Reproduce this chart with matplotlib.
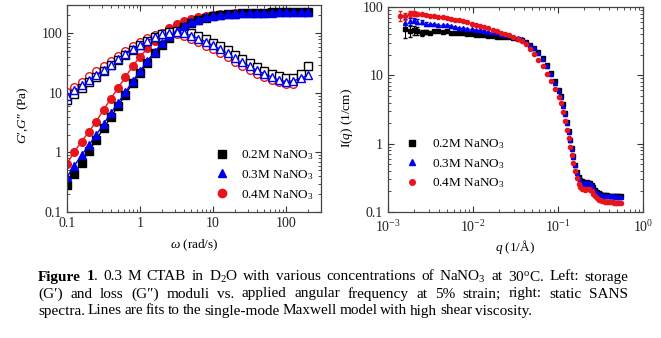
import numpy as np
import matplotlib
matplotlib.use('Agg')
import matplotlib.pyplot as plt
from matplotlib.ticker import FuncFormatter
from matplotlib.lines import Line2D

plt.rcParams['font.family'] = ['Liberation Serif', 'DejaVu Serif']
plt.rcParams['mathtext.fontset'] = 'custom'
plt.rcParams['mathtext.rm'] = 'Liberation Serif'
plt.rcParams['mathtext.it'] = 'Liberation Serif:italic'
plt.rcParams['mathtext.bf'] = 'Liberation Serif:bold'

# ---- rheology data (left panel) ----
omega = [0.1, 0.126, 0.158, 0.2, 0.251, 0.316, 0.398, 0.501, 0.631, 0.794,
         1, 1.26, 1.58, 2, 2.51, 3.16, 3.98, 5.01, 6.31, 7.94,
         10, 12.6, 15.8, 20, 25.1, 31.6, 39.8, 50.1, 63.1, 79.4,
         100, 126, 158, 200]

g1_02 = [0.28, 0.44, 0.67, 1.07, 1.62, 2.55, 3.9, 6.1, 9.4, 14.8,
         21.8, 32, 46, 64, 84, 105, 128, 150, 168, 182,
         193, 201, 208, 213, 217, 220, 222, 224, 225, 226,
         227, 227, 228, 228]
g2_02 = [7.6, 9.5, 12, 15, 18.8, 23.5, 29, 36, 44, 53,
         63, 75, 87, 97, 106, 110, 107, 100, 90, 80,
         70, 61, 52, 44, 37, 31.5, 27, 23.5, 21, 19,
         17.5, 18, 21, 28]
g1_03 = [0.39, 0.6, 0.9, 1.33, 1.97, 3.0, 4.6, 6.8, 10.3, 15.8,
         23.3, 34.4, 49, 68.5, 89, 111, 131, 154, 170, 185,
         195, 203, 210, 215, 218, 220, 222, 223, 224, 225,
         225, 226, 226, 226]
g2_03 = [9, 11, 13.5, 16.5, 20, 24.5, 30, 37, 45, 54,
         64, 75, 86, 96, 103, 104, 100, 92, 82, 72,
         63, 54, 46, 39, 33, 28, 24, 21, 18.5, 16.5,
         15.5, 16, 17.5, 20]
g1_04 = [0.65, 1.03, 1.52, 2.24, 3.31, 5.2, 8.0, 12.2, 18.5, 28.3,
         40.7, 56, 75, 97, 122, 144, 162, 177, 190, 199,
         206, 211, 215, 218, 220, 222, 223, 224, 225, 225,
         226, 226]
g2_04 = [10.5, 12.8, 15.5, 19, 23, 28, 34.5, 42, 51, 61,
         72, 83, 93, 100, 103, 99, 91, 81, 71, 62,
         54, 46, 39.5, 33.5, 28.5, 24.5, 21, 18.5, 16.5, 15,
         14.2, 14]

# ---- SANS data (right panel) ----
q = [0.0014, 0.0016, 0.0018, 0.002, 0.0022, 0.0025, 0.0028, 0.0031, 0.0035, 0.0039,
     0.0044, 0.0049, 0.0055, 0.0062, 0.0069, 0.0077, 0.0086, 0.0097, 0.0108, 0.0121,
     0.0136, 0.0152, 0.017, 0.019, 0.0213, 0.0238, 0.0267, 0.0298, 0.0334, 0.0374,
     0.0418, 0.0469, 0.0525, 0.0588, 0.0658, 0.0737, 0.0825, 0.0924, 0.1025, 0.108,
     0.115, 0.121, 0.128, 0.134, 0.14, 0.146, 0.152, 0.16, 0.168, 0.175,
     0.183, 0.192, 0.2, 0.21, 0.22, 0.23, 0.24, 0.25, 0.26, 0.27,
     0.285, 0.3, 0.315, 0.33, 0.345, 0.36, 0.38, 0.4, 0.42, 0.44,
     0.46, 0.48, 0.5, 0.52, 0.55]

i_02 = [np.nan, 47, 44, 46, 45, 42, 43, 42, 44, 45,
        43, 44, 42, 41, 42, 41.5, 40.5, 40, 39.5, 39.4,
        38.5, 38, 37.5, 37, 37, 36.5, 36, 35, 34, 32.5,
        30.5, 28, 25.5, 22, 18, 14.3, 11, 8.3, 6.2, 5.0,
        3.8, 2.8, 2.05, 1.55, 1.15, 0.86, 0.65, 0.49, 0.38, 0.32,
        0.29, 0.28, 0.275, 0.27, 0.272, 0.27, 0.265, 0.25, 0.23, 0.21,
        0.195, 0.187, 0.183, 0.18, 0.178, 0.176, 0.175, 0.174, 0.173, 0.172,
        0.172, 0.171, 0.171, 0.17, 0.17]
i_03 = [np.nan, 58, 62, 64, 61, 60, 57, 57, 56, 55,
        54, 54, 52, 51, 50, 49, 48, 47, 46, 45.5,
        44.5, 43.5, 42.5, 41.5, 40.5, 39.5, 38.5, 37, 35.5, 33.5,
        31, 28, 25, 21.5, 17.5, 13.5, 10.3, 7.8, 5.9, 4.8,
        3.6, 2.7, 2.0, 1.5, 1.12, 0.84, 0.64, 0.48, 0.37, 0.31,
        0.28, 0.27, 0.265, 0.26, 0.265, 0.265, 0.26, 0.245, 0.225, 0.205,
        0.19, 0.183, 0.179, 0.176, 0.174, 0.173, 0.172, 0.171, 0.17, 0.17,
        0.169, 0.168, 0.168, 0.167, 0.167]
i_04 = [75, 73, 80, 81, 79, 78, 76, 75, 74, 72,
        71, 69, 67, 65, 63.5, 62, 60, 57, 55, 53,
        50.5, 48.5, 46, 44, 42, 40, 38.5, 37, 34.5, 32,
        28.5, 24, 20.5, 17, 13.5, 10.5, 8.2, 6.4, 4.9, 3.9,
        2.9, 2.15, 1.6, 1.2, 0.9, 0.68, 0.52, 0.4, 0.31, 0.26,
        0.23, 0.22, 0.215, 0.21, 0.215, 0.215, 0.21, 0.2, 0.185, 0.17,
        0.16, 0.152, 0.148, 0.145, 0.143, 0.142, 0.14, 0.139, 0.138, 0.138,
        0.137, 0.137, 0.136, 0.136, 0.136]
err_02 = [0, 12, 8, 7, 6, 4, 3]
err_03 = [0, 8, 7, 6, 5, 4, 3]
err_04 = [13, 9, 8, 7, 5, 4, 3]

labels = ['0.2M NaNO$_3$', '0.3M NaNO$_3$', '0.4M NaNO$_3$']
colors = ['black', '#0000f0', '#e8141c']
markers = ['s', '^', 'o']

fig = plt.figure(figsize=(6.61, 3.38), dpi=100)
ax1 = fig.add_axes([67/661, 1-212/338, 254/661, 207/338])
ax2 = fig.add_axes([388/661, 1-212/338, 255/661, 205/338])

# left panel: filled = G', open = G''
for g1, g2, m, c in [(g1_04, g2_04, 'o', colors[2]),
                     (g1_02, g2_02, 's', colors[0]),
                     (g1_03, g2_03, '^', colors[1])]:
    w = omega[:len(g1)]
    ax1.plot(w, g1, marker=m, ms=5.5, color=c, lw=1.0, ls='-', mec=c, mfc=c)
    ax1.plot(w, g2, marker=m, ms=5.5, color=c, lw=1.0, ls='--',
             mec=c, mfc='white', mew=1.0)
ax1.set_xscale('log')
ax1.set_yscale('log')
ax1.set_xlim(0.1, 300)
ax1.set_ylim(0.1, 300)
ax1.set_xlabel(r'$\omega$ (rad/s)', fontsize=9.5)
ax1.set_ylabel(r"$G$′,$G$″ (Pa)", fontsize=9.5)
ax1.xaxis.set_label_coords(0.5, -0.125)
ax1.yaxis.set_label_coords(-0.14, 0.47)
h1 = [Line2D([], [], ls='none', marker=m, ms=6, color=c) for m, c in zip(markers, colors)]
ax1.legend(h1, labels, loc='lower left', bbox_to_anchor=(0.585, 0.05),
           frameon=False, fontsize=9.5, handlelength=1.0, handletextpad=0.9,
           labelspacing=0.45, borderpad=0, borderaxespad=0)

# right panel
for vals, err, m, c in [(i_02, err_02, 's', colors[0]),
                        (i_03, err_03, '^', colors[1]),
                        (i_04, err_04, 'o', colors[2])]:
    yerr = err + [0] * (len(q) - len(err))
    ax2.errorbar(q, vals, yerr=yerr, fmt=m, ms=3, color=c, mec=c,
                 elinewidth=0.8, capsize=1.5)
ax2.set_xscale('log')
ax2.set_yscale('log')
ax2.set_xlim(1e-3, 1)
ax2.set_ylim(0.1, 100)
ax2.set_xlabel(r'$q$ (1/Å)', fontsize=9.5)
ax2.set_ylabel(r'I($q$) (1/cm)', fontsize=9.5)
ax2.xaxis.set_label_coords(0.5, -0.125)
ax2.yaxis.set_label_coords(-0.13, 0.46)
h2 = [Line2D([], [], ls='none', marker=m, ms=4, color=c) for m, c in zip(markers, colors)]
ax2.legend(h2, labels, loc='lower left', bbox_to_anchor=(0.069, 0.105),
           frameon=False, fontsize=9.5, handlelength=1.0, handletextpad=1.0,
           labelspacing=0.45, borderpad=0, borderaxespad=0)

fmt = FuncFormatter(lambda v, p: f'{v:g}')
for ax in (ax1, ax2):
    ax.tick_params(which='both', direction='in', top=True, right=True,
                   labelsize=10, colors='#333333', labelcolor='#222222')
    ax.tick_params(which='major', length=4, width=0.8)
    ax.tick_params(which='minor', length=2, width=0.6)
    ax.yaxis.set_major_formatter(fmt)
    for s in ax.spines.values():
        s.set_color('#444444')
        s.set_linewidth(0.9)
ax1.xaxis.set_major_formatter(fmt)
ax1.set_xticks([0.1, 1, 10, 100])
ax1.set_yticks([0.1, 1, 10, 100])
ax2.set_xticks([1e-3, 1e-2, 1e-1, 1])
ax2.set_yticks([0.1, 1, 10, 100])
ax2.tick_params(axis='x', pad=5)

# caption, justified word by word
W = 661.0
H = 338.0
x0, x1 = 38, 628
fs = 11.0
lines = [
    ('Figure 1', '. 0.3 M CTAB in D$_2$O with various concentrations of NaNO$_3$ at 30$^\\mathrm{o}$C. Left: storage', 277, True),
    ('', '(G′) and loss (G″) moduli vs. applied angular frequency at 5% strain; right: static SANS', 294, True),
    ('', 'spectra. Lines are fits to the single-mode Maxwell model with high shear viscosity.', 311, False),
]
renderer = fig.canvas.get_renderer()
for bold, rest, y, justify in lines:
    toks = rest.split(' ')
    groups = []
    if bold:
        bw = bold.split(' ')
        for b in bw[:-1]:
            groups.append([(b, 'bold')])
        groups.append([(bw[-1], 'bold'), (toks[0], 'normal')])
        toks = toks[1:]
    groups += [[(t, 'normal')] for t in toks]
    texts, widths = [], []
    for g in groups:
        tt = [fig.text(0, 1 - y / H, s, fontsize=fs, fontweight=wt, va='center')
              for s, wt in g]
        texts.append(tt)
        widths.append(sum(t.get_window_extent(renderer).width for t in tt))
    if justify:
        gap = (x1 - x0 - sum(widths)) / (len(texts) - 1)
    else:
        gap = 2.8
    x = x0
    for tt, wd in zip(texts, widths):
        xx = x
        for t in tt:
            t.set_x(xx / W)
            xx += t.get_window_extent(renderer).width
        x += wd + gap

fig.savefig('out.png', dpi=100)
